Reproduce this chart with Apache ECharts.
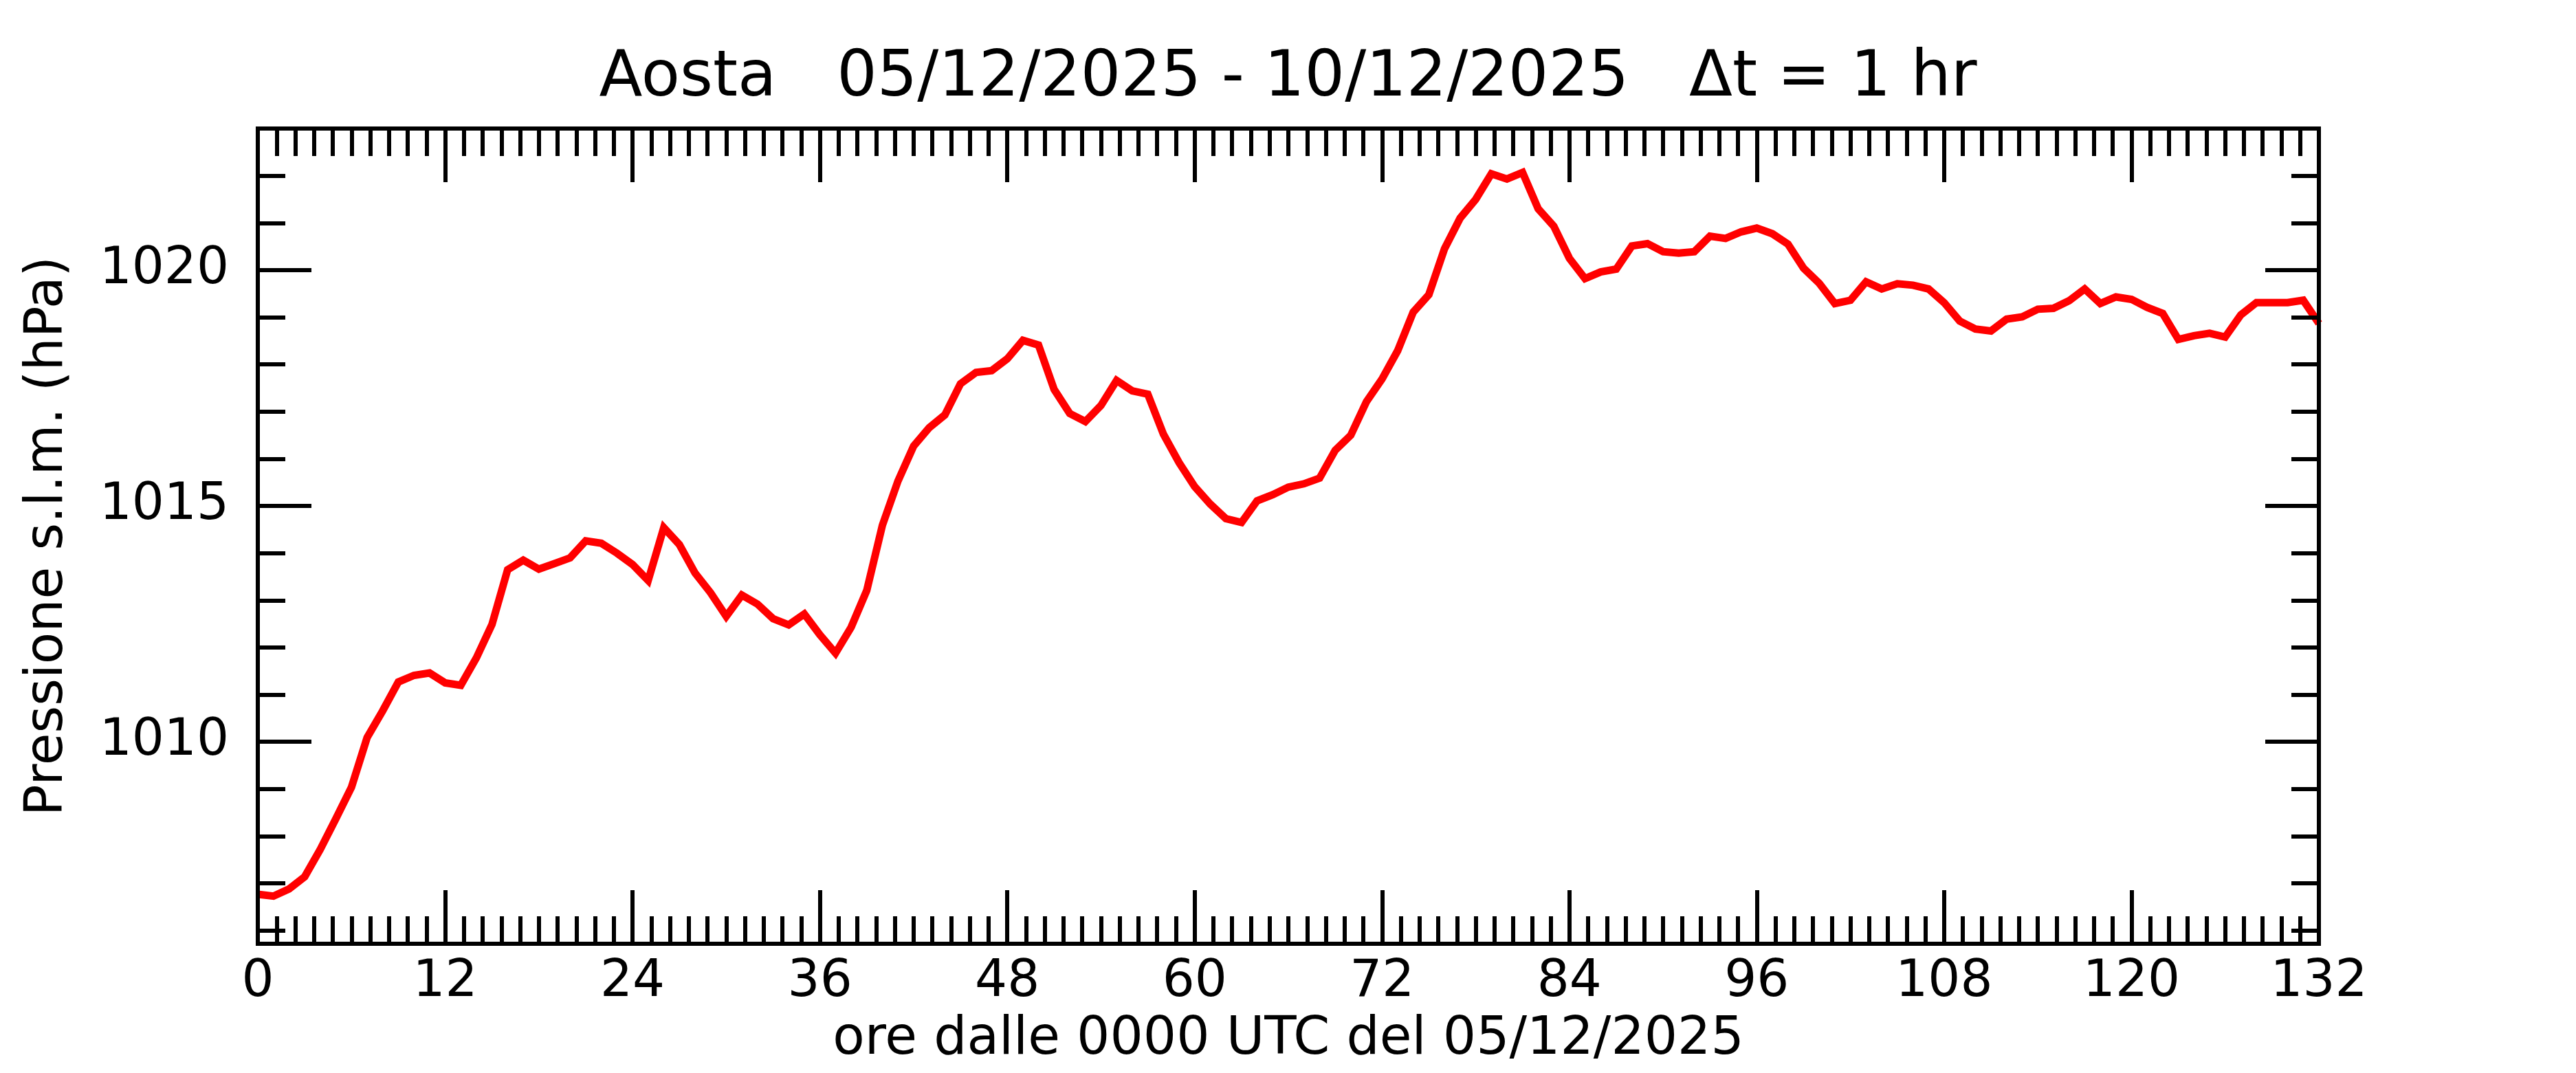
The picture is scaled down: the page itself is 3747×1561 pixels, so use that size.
<!DOCTYPE html>
<html>
<head>
<meta charset="utf-8">
<script src="https://cdn.jsdelivr.net/npm/echarts@6/dist/echarts.min.js"></script>
<style>
html,body{margin:0;padding:0;background:#fff;}
#chart{width:3747px;height:1561px;}
</style>
</head>
<body>
<div id="chart"></div>
<script>
// ---- data ----
const titleText = 'Aosta   05/12/2025 - 10/12/2025   \u0394t = 1 hr';
const xAxisName = 'ore dalle 0000 UTC del 05/12/2025';
const yAxisName = 'Pressione s.l.m. (hPa)';
const xTicksMajor = [0, 12, 24, 36, 48, 60, 72, 84, 96, 108, 120, 132];
const yTicksMajor = [1010, 1015, 1020];
const yTicksMinor = [1006, 1007, 1008, 1009, 1011, 1012, 1013, 1014, 1016, 1017, 1018, 1019, 1021, 1022, 1023];
const pressure = [
  1006.77, 1006.73, 1006.88, 1007.14, 1007.72, 1008.37, 1009.04, 1010.09, 1010.66, 1011.27,
  1011.41, 1011.46, 1011.25, 1011.20, 1011.78, 1012.49, 1013.65, 1013.85, 1013.66, 1013.78,
  1013.90, 1014.26, 1014.21, 1014.00, 1013.76, 1013.42, 1014.54, 1014.18, 1013.58, 1013.16,
  1012.66, 1013.11, 1012.92, 1012.61, 1012.48, 1012.71, 1012.27, 1011.88, 1012.43, 1013.21,
  1014.59, 1015.53, 1016.27, 1016.66, 1016.93, 1017.59, 1017.83, 1017.87, 1018.12, 1018.51,
  1018.41, 1017.47, 1016.96, 1016.79, 1017.13, 1017.66, 1017.44, 1017.37, 1016.52, 1015.92,
  1015.41, 1015.04, 1014.73, 1014.65, 1015.11, 1015.24, 1015.40, 1015.47, 1015.59, 1016.18,
  1016.50, 1017.21, 1017.69, 1018.29, 1019.11, 1019.48, 1020.45, 1021.10, 1021.50, 1022.04,
  1021.93, 1022.07, 1021.30, 1020.93, 1020.25, 1019.82, 1019.96, 1020.02, 1020.51, 1020.56,
  1020.39, 1020.36, 1020.39, 1020.72, 1020.67, 1020.81, 1020.89, 1020.77, 1020.55, 1020.04,
  1019.72, 1019.29, 1019.36, 1019.75, 1019.60, 1019.71, 1019.68, 1019.60, 1019.31, 1018.92,
  1018.75, 1018.71, 1018.96, 1019.01, 1019.17, 1019.19, 1019.35, 1019.60, 1019.29, 1019.43,
  1019.38, 1019.21, 1019.08, 1018.53, 1018.61, 1018.66, 1018.58, 1019.05, 1019.31, 1019.31,
  1019.31, 1019.36, 1018.87
];
const xMin = 0, xMax = 132, xInterval = 12;
const yMin = 1005.72, yMax = 1023.0;

// ---- chart ----
const FONT = 'DejaVu Sans';
const seriesData = pressure.map((v, i) => [i, v]);
const lineBlack = { color: '#000', width: 6, cap: 'square' };
const plainNum = v => String(Math.round(v));

function xAx(pos, showLabel) {
  return {
    type: 'value', position: pos, min: xMin, max: xMax, interval: xInterval, z: 5,
    axisLine: { show: true, onZero: false, lineStyle: lineBlack },
    axisTick: { show: true, inside: true, length: 78, lineStyle: { color: '#000', width: 6 } },
    minorTick: { show: true, splitNumber: 10, length: 40, lineStyle: { color: '#000', width: 6 } },
    splitLine: { show: false }, minorSplitLine: { show: false },
    axisLabel: { show: showLabel, fontSize: 74, color: '#000', fontFamily: FONT, margin: 20,
      customValues: xTicksMajor, formatter: plainNum },
    name: showLabel ? xAxisName : '', nameLocation: 'middle', nameGap: 102,
    nameTextStyle: { fontSize: 76, color: '#000', fontFamily: FONT }
  };
}
function yAx(pos, values, len, showLabel, withName) {
  return {
    type: 'value', position: pos, min: yMin, max: yMax, z: 5,
    axisLine: { show: true, onZero: false, lineStyle: lineBlack },
    axisTick: { show: true, inside: true, length: len, customValues: values,
      lineStyle: { color: '#000', width: 6 } },
    splitLine: { show: false },
    axisLabel: { show: showLabel, fontSize: 74, color: '#000', fontFamily: FONT, margin: 42,
      customValues: values, formatter: plainNum },
    name: withName ? yAxisName : '', nameLocation: 'middle', nameGap: 267, nameRotate: 90,
    nameTextStyle: { fontSize: 76, color: '#000', fontFamily: FONT }
  };
}

const chart = echarts.init(document.getElementById('chart'), null, { renderer: 'canvas', width: 3747, height: 1561 });
chart.setOption({
  backgroundColor: '#fff',
  animation: false,
  title: {
    text: titleText, left: 'center', top: 64,
    textStyle: { fontSize: 92, fontWeight: 'normal', color: '#000', fontFamily: FONT }
  },
  grid: { left: 375, right: 374, top: 187, bottom: 188, containLabel: false },
  xAxis: [xAx('bottom', true), xAx('top', false)],
  yAxis: [
    yAx('left', yTicksMajor, 78, true, true),
    yAx('left', yTicksMinor, 40, false, false),
    yAx('right', yTicksMajor, 78, false, false),
    yAx('right', yTicksMinor, 40, false, false)
  ],
  series: [{
    type: 'line', xAxisIndex: 0, yAxisIndex: 0, data: seriesData,
    showSymbol: false, symbol: 'none', clip: true, z: 2,
    lineStyle: { color: '#ff0000', width: 11, join: 'miter' }
  }]
});
</script>
</body>
</html>
